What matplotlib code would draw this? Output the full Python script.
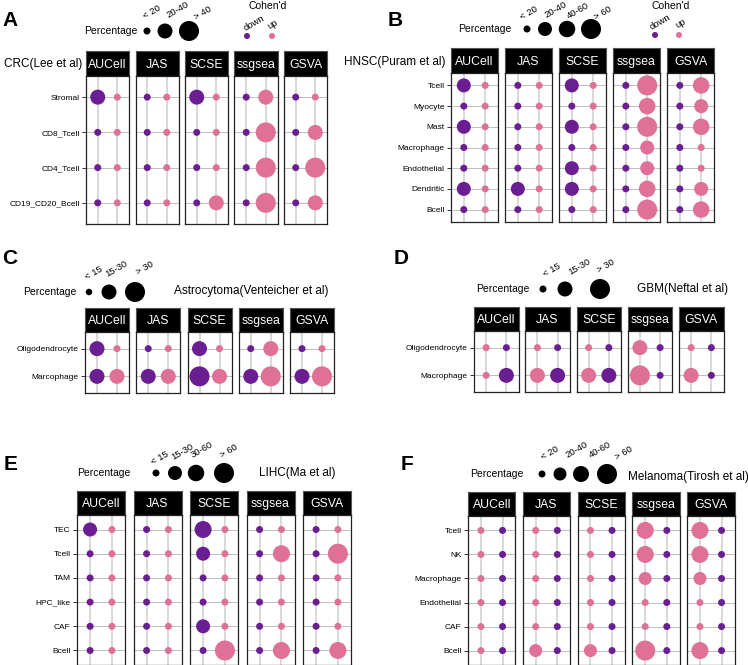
import numpy as np
import matplotlib.pyplot as plt

# figure size in pixels
W, H = 748, 665
plt.rcParams['font.family'] = ['Liberation Sans', 'DejaVu Sans']

PURPLE = '#6A1E91'
PINK = '#DF7096'
colors = {'down': PURPLE, 'up': PINK}

methods = ["AUCell", "JAS", "SCSE", "ssgsea", "GSVA"]

# ---- data: percentage bin index (0 = smallest bin) per method, per cell type ----
# A  CRC(Lee et al)
A_cells = ["Stromal", "CD8_Tcell", "CD4_Tcell", "CD19_CD20_Bcell"]
A_bins = ["< 20", "20-40", "> 40"]
A_down = [[1, 0, 0, 0], [0, 0, 0, 0], [1, 0, 0, 0], [0, 0, 0, 0], [0, 0, 0, 0]]
A_up = [[0, 0, 0, 0], [0, 0, 0, 0], [0, 0, 0, 1], [1, 2, 2, 2], [0, 1, 2, 1]]

# B  HNSC(Puram et al)
B_cells = ["Tcell", "Myocyte", "Mast", "Macrophage", "Endothelial", "Dendritic", "Bcell"]
B_bins = ["< 20", "20-40", "40-60", "> 60"]
B_down = [[1, 0, 1, 0, 0, 1, 0], [0, 0, 0, 0, 0, 1, 0], [1, 0, 1, 0, 1, 1, 0],
          [0, 0, 0, 0, 0, 0, 0], [0, 0, 0, 0, 0, 0, 0]]
B_up = [[0, 0, 0, 0, 0, 0, 0], [0, 0, 0, 0, 0, 0, 0], [0, 0, 0, 0, 0, 0, 0],
        [3, 2, 3, 1, 1, 2, 3], [2, 1, 2, 0, 0, 1, 2]]

# C  Astrocytoma(Venteicher et al)
C_cells = ["Oligodendrocyte", "Marcophage"]
C_bins = ["< 15", "15-30", "> 30"]
C_down = [[1, 1], [0, 1], [1, 2], [0, 1], [0, 1]]
C_up = [[0, 1], [0, 1], [0, 1], [1, 2], [0, 2]]

# D  GBM(Neftal et al)
D_cells = ["Oligodendrocyte", "Macrophage"]
D_bins = ["< 15", "15-30", "> 30"]
D_down = [[0, 1], [0, 1], [0, 1], [0, 0], [0, 0]]
D_up = [[0, 0], [0, 1], [0, 1], [1, 2], [0, 1]]

# E  LIHC(Ma et al)
E_cells = ["TEC", "Tcell", "TAM", "HPC_like", "CAF", "Bcell"]
E_bins = ["< 15", "15-30", "30-60", "> 60"]
E_down = [[1, 0, 0, 0, 0, 0], [0, 0, 0, 0, 0, 0], [2, 1, 0, 0, 1, 0],
          [0, 0, 0, 0, 0, 0], [0, 0, 0, 0, 0, 0]]
E_up = [[0, 0, 0, 0, 0, 0], [0, 0, 0, 0, 0, 0], [0, 0, 0, 0, 0, 3],
        [0, 2, 0, 0, 0, 2], [0, 3, 0, 0, 0, 2]]

# F  Melanoma(Tirosh et al)
F_cells = ["Tcell", "NK", "Macrophage", "Endothelial", "CAF", "Bcell"]
F_bins = ["< 20", "20-40", "40-60", "> 60"]
F_down = [[0] * 6 for _ in range(5)]
F_up = [[0, 0, 0, 0, 0, 0], [0, 0, 0, 0, 0, 1], [0, 0, 0, 0, 0, 1],
        [2, 2, 1, 0, 0, 3], [2, 2, 1, 0, 0, 2]]


fig = plt.figure(figsize=(W / 100, H / 100), dpi=100)

# overlay axes in pixel coordinates for legends / labels
ov = fig.add_axes([0, 0, 1, 1])
ov.set_xlim(0, W)
ov.set_ylim(H, 0)
ov.axis('off')


def box(x, y, w, h):
    return [x / W, 1 - (y + h) / H, w / W, h / H]


def s_of(d):
    # pixel diameter -> scatter area in pt^2
    return (np.asarray(d, dtype=float) * 0.72) ** 2


def draw_panel(cells, down, up, sizes, lefts, width, strip_top, bottom,
               order=('down', 'up'), strip_h=25):
    n = len(cells)
    ypos = np.arange(n)[::-1] + 1
    vals = {'down': down, 'up': up}
    for i, m in enumerate(methods):
        sax = fig.add_axes(box(lefts[i], strip_top, width, strip_h))
        sax.set_facecolor('black')
        sax.set_xticks([])
        sax.set_yticks([])
        for sp in sax.spines.values():
            sp.set_color('#555555')
            sp.set_linewidth(0.8)
        sax.text(0.5, 0.45, m, color='white', ha='center', va='center',
                 fontsize=8.8, transform=sax.transAxes)

        ax = fig.add_axes(box(lefts[i], strip_top + strip_h, width,
                              bottom - strip_top - strip_h))
        ax.set_xlim(0.4, 2.6)
        ax.set_ylim(0.4, n + 0.6)
        for xv in (1, 2):
            ax.axvline(xv, color='#d6d6d6', lw=1.3, zorder=1)
        for yv in ypos:
            ax.axhline(yv, color='#bdbdbd', lw=0.7, zorder=1)
        for j, key in enumerate(order):
            lv = np.array(vals[key][i])
            ax.scatter(np.full(n, j + 1), ypos, s=s_of(np.array(sizes)[lv]),
                       c=colors[key], lw=0, zorder=3)
        ax.set_xticks([])
        ax.set_yticks(ypos)
        if i == 0:
            ax.set_yticklabels(cells, fontsize=6)
            ax.tick_params(axis='y', length=3, width=0.7, color='#333333', pad=1.5)
        else:
            ax.set_yticklabels([])
            ax.tick_params(axis='y', length=0)
        for sp in ax.spines.values():
            sp.set_color('#222222')
            sp.set_linewidth(0.9)


def rot_label(x, y, t):
    ov.text(x, y, t, rotation=30, rotation_mode='anchor',
            ha='left', va='baseline', fontsize=6.8)


def draw_size_legend(text_right, y, xs, sizes, labels, label_xy):
    ov.text(text_right, y, "Percentage", ha='right', va='center', fontsize=7.5)
    ov.scatter(xs, [y] * len(xs), s=s_of(sizes), c='black', lw=0)
    for lab, (lx, ly) in zip(labels, label_xy):
        rot_label(lx, ly, lab)


def draw_cohen_legend(cx, xs, y, lab_xy):
    ov.text(cx, 6, "Cohen'd", ha='center', va='center', fontsize=7.5)
    rot_label(lab_xy[0][0], lab_xy[0][1], "down")
    rot_label(lab_xy[1][0], lab_xy[1][1], "up")
    ov.scatter(xs, [y, y], s=s_of([6, 6]), c=[PURPLE, PINK], lw=0)


def panel_letter(x, y, t):
    ov.text(x, y, t, ha='center', va='center', fontsize=15, fontweight='bold')


# ---- Panel A ----
panel_letter(10, 20, "A")
draw_size_legend(138, 31, [147, 165, 189], [7, 15, 20], A_bins,
                 [(145, 19), (168, 18), (196, 20)])
draw_cohen_legend(268, [247, 272], 36, [(246, 31), (269, 29)])
ov.text(82, 64, "CRC(Lee et al)", ha='right', va='center', fontsize=8.5)
draw_panel(A_cells, A_down, A_up, [7, 15, 20],
           [86 + 49.5 * k for k in range(5)], 43, 51, 224)

# ---- Panel B ----
panel_letter(395, 20, "B")
draw_size_legend(512, 29, [527, 545, 567, 591], [7, 14, 16.5, 20], B_bins,
                 [(522, 20), (546, 18), (569, 19), (596, 20)])
draw_cohen_legend(671, [655, 679], 35, [(652, 30), (677, 28)])
ov.text(446, 62, "HNSC(Puram et al)", ha='right', va='center', fontsize=8.5)
draw_panel(B_cells, B_down, B_up, [7, 14, 16.5, 20],
           [451 + 54 * k for k in range(5)], 47, 48, 222)

# ---- Panel C ----
panel_letter(10, 258, "C")
draw_size_legend(77, 292, [89, 109, 135], [6.5, 15, 20], C_bins,
                 [(87, 280), (107, 277), (138, 275)])
ov.text(174, 291, "Astrocytoma(Venteicher et al)", ha='left', va='center', fontsize=8.5)
draw_panel(C_cells, C_down, C_up, [7, 15, 20],
           [85 + 51.25 * k for k in range(5)], 44, 308, 393, strip_h=24)

# ---- Panel D ----
panel_letter(401, 259, "D")
draw_size_legend(530, 289, [543, 565, 600], [7, 15, 20], D_bins,
                 [(545, 277), (570, 275), (599, 273)])
ov.text(637, 289, "GBM(Neftal et al)", ha='left', va='center', fontsize=8.5)
draw_panel(D_cells, D_down, D_up, [7, 15, 20],
           [474 + 51.25 * k for k in range(5)], 44.5, 307, 392,
           order=('up', 'down'), strip_h=24)

# ---- Panel E ----
panel_letter(11, 465, "E")
draw_size_legend(131, 473, [156, 175, 196, 224], [7, 14, 16.5, 20], E_bins,
                 [(153, 465), (173, 460), (193, 458), (222, 458)])
ov.text(259, 473, "LIHC(Ma et al)", ha='left', va='center', fontsize=8.5)
draw_panel(E_cells, E_down, E_up, [7, 14, 17, 20],
           [77 + 56.5 * k for k in range(5)], 48, 491, 665, strip_h=24)

# ---- Panel F ----
panel_letter(407, 464, "F")
draw_size_legend(524, 474, [542, 560, 581, 607], [7, 13, 16, 20], F_bins,
                 [(543, 460), (567, 458), (591, 458), (617, 460)])
ov.text(628, 477, "Melanoma(Tirosh et al)", ha='left', va='center', fontsize=8.5)
draw_panel(F_cells, F_down, F_up, [7, 13, 17, 20],
           [468 + 54.75 * k for k in range(5)], 47.5, 492, 665,
           order=('up', 'down'), strip_h=24)

fig.savefig('out.png', dpi=100)
